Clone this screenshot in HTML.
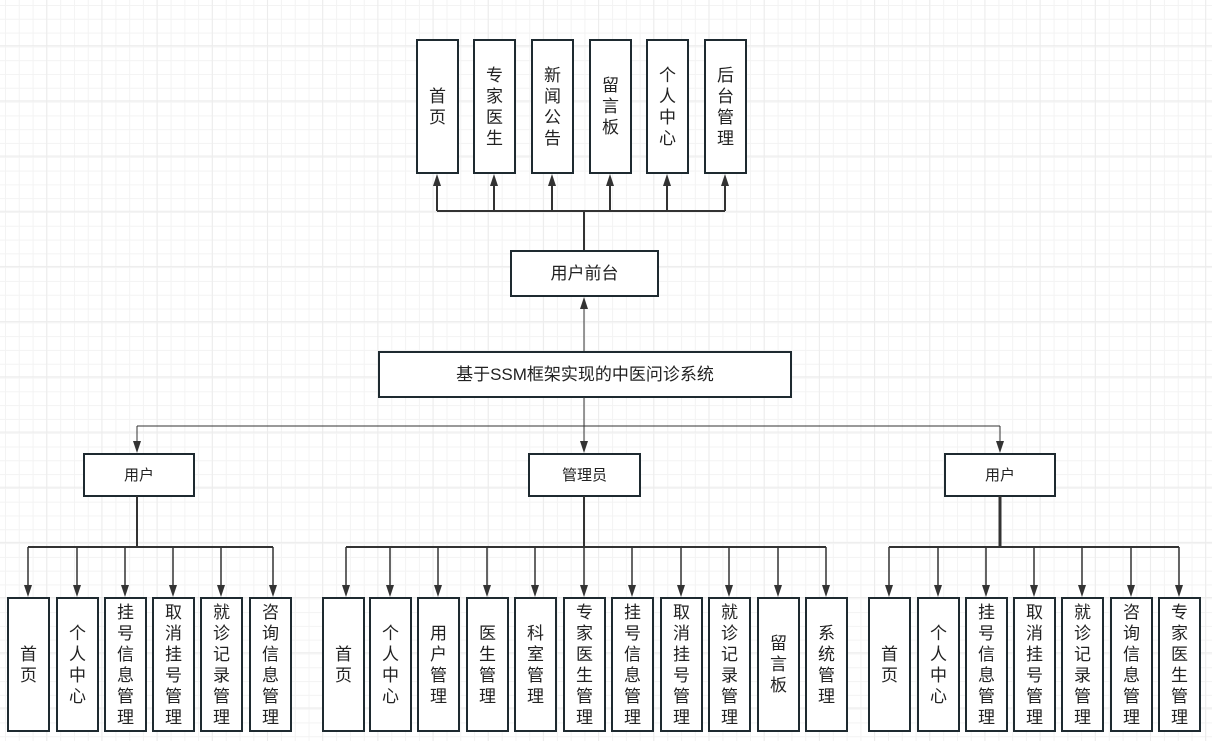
<!DOCTYPE html>
<html><head><meta charset="utf-8"><style>
html,body{margin:0;padding:0;}
body{width:1212px;height:741px;position:relative;overflow:hidden;background-color:#fff;
background-image:linear-gradient(#ececec 1px,transparent 1px),linear-gradient(90deg,#ececec 1px,transparent 1px),linear-gradient(#f3f3f3 1px,transparent 1px),linear-gradient(90deg,#f3f3f3 1px,transparent 1px);
background-size:55.2px 55.2px,55.2px 55.2px,13.8px 13.8px,13.8px 13.8px;background-position:-9px -10px,-9px -10px,5px 5px,5px 5px;font-family:"Liberation Sans","Noto Sans CJK SC",sans-serif;color:#222;}
.b{position:absolute;box-sizing:border-box;border:2px solid #1e2a30;background:#fff;display:flex;align-items:center;justify-content:center;text-align:center;font-size:17px;line-height:21px;}
svg{position:absolute;left:0;top:0;z-index:2;}
</style></head><body>
<svg width="1212" height="741">
<g stroke="#333" stroke-width="2" fill="none">
<line x1="584" y1="250" x2="584" y2="211"/>
<line x1="437" y1="211" x2="725" y2="211"/>
<path d="M437,211 V180"/><path d="M494,211 V180"/><path d="M552,211 V180"/><path d="M610,211 V180"/><path d="M667,211 V180"/><path d="M725,211 V180"/>
<line x1="584" y1="351" x2="584" y2="305" stroke-width="1"/>
<line x1="584" y1="397" x2="584" y2="426" stroke-width="1"/>
<line x1="137" y1="426" x2="1000" y2="426" stroke-width="1"/>
<line x1="137" y1="426" x2="137" y2="443" stroke-width="1"/>
<line x1="584" y1="426" x2="584" y2="443" stroke-width="1"/>
<line x1="1000" y1="426" x2="1000" y2="443" stroke-width="1"/>
<line x1="137" y1="496" x2="137" y2="547"/>
<line x1="28" y1="547" x2="273" y2="547"/>
<line x1="584" y1="496" x2="584" y2="547"/>
<line x1="346" y1="547" x2="826" y2="547"/>
<line x1="1000" y1="496" x2="1000" y2="547" stroke-width="3"/>
<line x1="889" y1="547" x2="1179" y2="547"/>
</g>
<g fill="#333">
<path d="M433,186 l4,-12 l4,12z"/><path d="M490,186 l4,-12 l4,12z"/><path d="M548,186 l4,-12 l4,12z"/><path d="M606,186 l4,-12 l4,12z"/><path d="M663,186 l4,-12 l4,12z"/><path d="M721,186 l4,-12 l4,12z"/>
<path d="M580,309 l4,-12 l4,12z"/>
<path d="M133,441 l4,12 l4,-12z"/><path d="M580,441 l4,12 l4,-12z"/><path d="M996,441 l4,12 l4,-12z"/>
</g>
<g stroke="#333" stroke-width="1.5">
<line x1="28" y1="547" x2="28" y2="586"/><line x1="77" y1="547" x2="77" y2="586"/><line x1="125" y1="547" x2="125" y2="586"/><line x1="173" y1="547" x2="173" y2="586"/><line x1="221" y1="547" x2="221" y2="586"/><line x1="273" y1="547" x2="273" y2="586"/>
<line x1="346" y1="547" x2="346" y2="586"/><line x1="390" y1="547" x2="390" y2="586"/><line x1="438" y1="547" x2="438" y2="586"/><line x1="487" y1="547" x2="487" y2="586"/><line x1="535" y1="547" x2="535" y2="586"/><line x1="584" y1="547" x2="584" y2="586"/><line x1="632" y1="547" x2="632" y2="586"/><line x1="681" y1="547" x2="681" y2="586"/><line x1="729" y1="547" x2="729" y2="586"/><line x1="778" y1="547" x2="778" y2="586"/><line x1="826" y1="547" x2="826" y2="586"/>
<line x1="889" y1="547" x2="889" y2="586"/><line x1="938" y1="547" x2="938" y2="586"/><line x1="986" y1="547" x2="986" y2="586"/><line x1="1034" y1="547" x2="1034" y2="586"/><line x1="1082" y1="547" x2="1082" y2="586"/><line x1="1131" y1="547" x2="1131" y2="586"/><line x1="1179" y1="547" x2="1179" y2="586"/>
</g>
<g fill="#333">
<path d="M24,585 l4,12 l4,-12z"/><path d="M73,585 l4,12 l4,-12z"/><path d="M121,585 l4,12 l4,-12z"/><path d="M169,585 l4,12 l4,-12z"/><path d="M217,585 l4,12 l4,-12z"/><path d="M269,585 l4,12 l4,-12z"/>
<path d="M342,585 l4,12 l4,-12z"/><path d="M386,585 l4,12 l4,-12z"/><path d="M434,585 l4,12 l4,-12z"/><path d="M483,585 l4,12 l4,-12z"/><path d="M531,585 l4,12 l4,-12z"/><path d="M580,585 l4,12 l4,-12z"/><path d="M628,585 l4,12 l4,-12z"/><path d="M677,585 l4,12 l4,-12z"/><path d="M725,585 l4,12 l4,-12z"/><path d="M774,585 l4,12 l4,-12z"/><path d="M822,585 l4,12 l4,-12z"/>
<path d="M885,585 l4,12 l4,-12z"/><path d="M934,585 l4,12 l4,-12z"/><path d="M982,585 l4,12 l4,-12z"/><path d="M1030,585 l4,12 l4,-12z"/><path d="M1078,585 l4,12 l4,-12z"/><path d="M1127,585 l4,12 l4,-12z"/><path d="M1175,585 l4,12 l4,-12z"/>
</g>
</svg>

<div class="b" style="left:416px;top:39px;width:43px;height:135px">首<br>页</div>
<div class="b" style="left:473px;top:39px;width:43px;height:135px">专<br>家<br>医<br>生</div>
<div class="b" style="left:531px;top:39px;width:43px;height:135px">新<br>闻<br>公<br>告</div>
<div class="b" style="left:589px;top:39px;width:43px;height:135px">留<br>言<br>板</div>
<div class="b" style="left:646px;top:39px;width:43px;height:135px">个<br>人<br>中<br>心</div>
<div class="b" style="left:704px;top:39px;width:43px;height:135px">后<br>台<br>管<br>理</div>

<div class="b" style="left:510px;top:250px;width:149px;height:47px">用户前台</div>
<div class="b" style="left:378px;top:351px;width:414px;height:47px">基于SSM框架实现的中医问诊系统</div>

<div class="b" style="left:83px;top:453px;width:112px;height:44px;font-size:15px">用户</div>
<div class="b" style="left:528px;top:453px;width:113px;height:44px;font-size:15px">管理员</div>
<div class="b" style="left:944px;top:453px;width:112px;height:44px;font-size:15px">用户</div>

<div class="b" style="left:7px;top:597px;width:43px;height:135px">首<br>页</div>
<div class="b" style="left:56px;top:597px;width:43px;height:135px">个<br>人<br>中<br>心</div>
<div class="b" style="left:104px;top:597px;width:43px;height:135px">挂<br>号<br>信<br>息<br>管<br>理</div>
<div class="b" style="left:152px;top:597px;width:43px;height:135px">取<br>消<br>挂<br>号<br>管<br>理</div>
<div class="b" style="left:200px;top:597px;width:43px;height:135px">就<br>诊<br>记<br>录<br>管<br>理</div>
<div class="b" style="left:249px;top:597px;width:43px;height:135px">咨<br>询<br>信<br>息<br>管<br>理</div>

<div class="b" style="left:322px;top:597px;width:43px;height:135px">首<br>页</div>
<div class="b" style="left:369px;top:597px;width:43px;height:135px">个<br>人<br>中<br>心</div>
<div class="b" style="left:417px;top:597px;width:43px;height:135px">用<br>户<br>管<br>理</div>
<div class="b" style="left:466px;top:597px;width:43px;height:135px">医<br>生<br>管<br>理</div>
<div class="b" style="left:514px;top:597px;width:43px;height:135px">科<br>室<br>管<br>理</div>
<div class="b" style="left:563px;top:597px;width:43px;height:135px">专<br>家<br>医<br>生<br>管<br>理</div>
<div class="b" style="left:611px;top:597px;width:43px;height:135px">挂<br>号<br>信<br>息<br>管<br>理</div>
<div class="b" style="left:660px;top:597px;width:43px;height:135px">取<br>消<br>挂<br>号<br>管<br>理</div>
<div class="b" style="left:708px;top:597px;width:43px;height:135px">就<br>诊<br>记<br>录<br>管<br>理</div>
<div class="b" style="left:757px;top:597px;width:43px;height:135px">留<br>言<br>板</div>
<div class="b" style="left:805px;top:597px;width:43px;height:135px">系<br>统<br>管<br>理</div>

<div class="b" style="left:868px;top:597px;width:43px;height:135px">首<br>页</div>
<div class="b" style="left:917px;top:597px;width:43px;height:135px">个<br>人<br>中<br>心</div>
<div class="b" style="left:965px;top:597px;width:43px;height:135px">挂<br>号<br>信<br>息<br>管<br>理</div>
<div class="b" style="left:1013px;top:597px;width:43px;height:135px">取<br>消<br>挂<br>号<br>管<br>理</div>
<div class="b" style="left:1061px;top:597px;width:43px;height:135px">就<br>诊<br>记<br>录<br>管<br>理</div>
<div class="b" style="left:1110px;top:597px;width:43px;height:135px">咨<br>询<br>信<br>息<br>管<br>理</div>
<div class="b" style="left:1158px;top:597px;width:43px;height:135px">专<br>家<br>医<br>生<br>管<br>理</div>
</body></html>
